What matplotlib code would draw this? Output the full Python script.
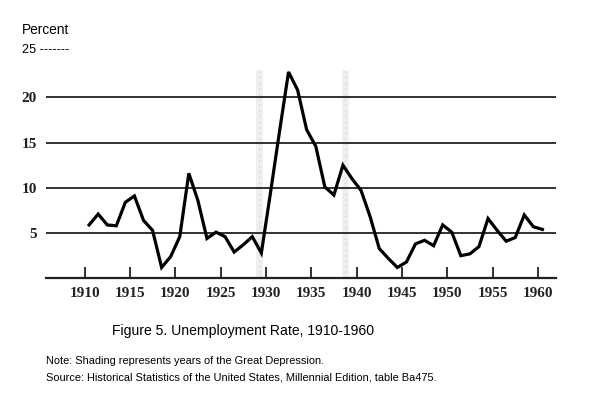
import numpy as np
import matplotlib
matplotlib.use("Agg")
import matplotlib.pyplot as plt

# unemployment rate, percent
years = np.arange(1910, 1961)
rate = [5.9, 7.1, 5.9, 5.8, 8.4, 9.1, 6.4, 5.3, 1.2, 2.4,
        4.6, 11.6, 8.6, 4.4, 5.1, 4.6, 2.9, 3.7, 4.6, 2.8,
        9.4, 16.2, 22.8, 20.8, 16.4, 14.6, 10.1, 9.2, 12.5, 11.0,
        9.7, 6.8, 3.3, 2.2, 1.2, 1.8, 3.8, 4.2, 3.6, 5.9,
        5.1, 2.5, 2.7, 3.5, 6.6, 5.3, 4.1, 4.5, 7.0, 5.7, 5.4]
xticks = [1910, 1915, 1920, 1925, 1930, 1935, 1940, 1945, 1950, 1955, 1960]
yticks = [5, 10, 15, 20]
depression = (1929.25, 1938.75)   # edges of the shaded band

title = "Figure 5. Unemployment Rate, 1910-1960"
note = "Note: Shading represents years of the Great Depression."
source = "Source: Historical Statistics of the United States, Millennial Edition, table Ba475."

sans = "Liberation Sans"

fig = plt.figure(figsize=(6.1, 4.03), dpi=100)
ax = fig.add_axes([0.0762, 0.3094, 0.8353, 0.5615])

# what is left of the shading in the scan: two faint grey strips
ax.vlines(depression, 0, 23, colors="#efefef", linewidth=5, zorder=0)
ax.vlines(depression, 0, 23, colors="#d6d6d6", linewidth=1, linestyles=(0, (1, 3)), zorder=0)

# plotted at mid-year like the original
ax.plot(years + 0.5, rate, color="black", linewidth=2.3, solid_joinstyle="miter", zorder=3)

ax.set_xlim(1905.8, 1962)
ax.set_ylim(0, 25)
ax.set_xticks(xticks)
ax.set_yticks(yticks)
ax.set_xticklabels([str(x) for x in xticks], family="Liberation Serif", fontsize=11, fontweight="bold", color="#222222")
ax.set_yticklabels([str(y) for y in yticks], family="Liberation Serif", fontsize=11, fontweight="bold", color="#222222")
ax.tick_params(axis="x", direction="in", length=8, width=1.3, pad=6, color="#222222")
ax.tick_params(axis="y", length=0, pad=7)
ax.yaxis.grid(True, color="#222222", linewidth=1.3)
ax.set_axisbelow(True)

for s in ["top", "right", "left"]:
    ax.spines[s].set_visible(False)
ax.spines["bottom"].set_linewidth(1.6)
ax.spines["bottom"].set_color("#222222")

fig.text(21.7 / 610, 1 - 29.5 / 403, "Percent", family=sans, fontsize=9.9, va="center")
fig.text(21.7 / 610, 1 - 50 / 403, "25 -------", family=sans, fontsize=9.1, va="center")

fig.text(243.5 / 610, 1 - 331.5 / 403, title, family=sans, fontsize=10.1, ha="center", va="center")
fig.text(46 / 610, 1 - 361 / 403, note, family=sans, fontsize=7.9, va="center")
fig.text(46 / 610, 1 - 377.5 / 403, source, family=sans, fontsize=7.9, va="center")

fig.savefig("out.png", dpi=100)
